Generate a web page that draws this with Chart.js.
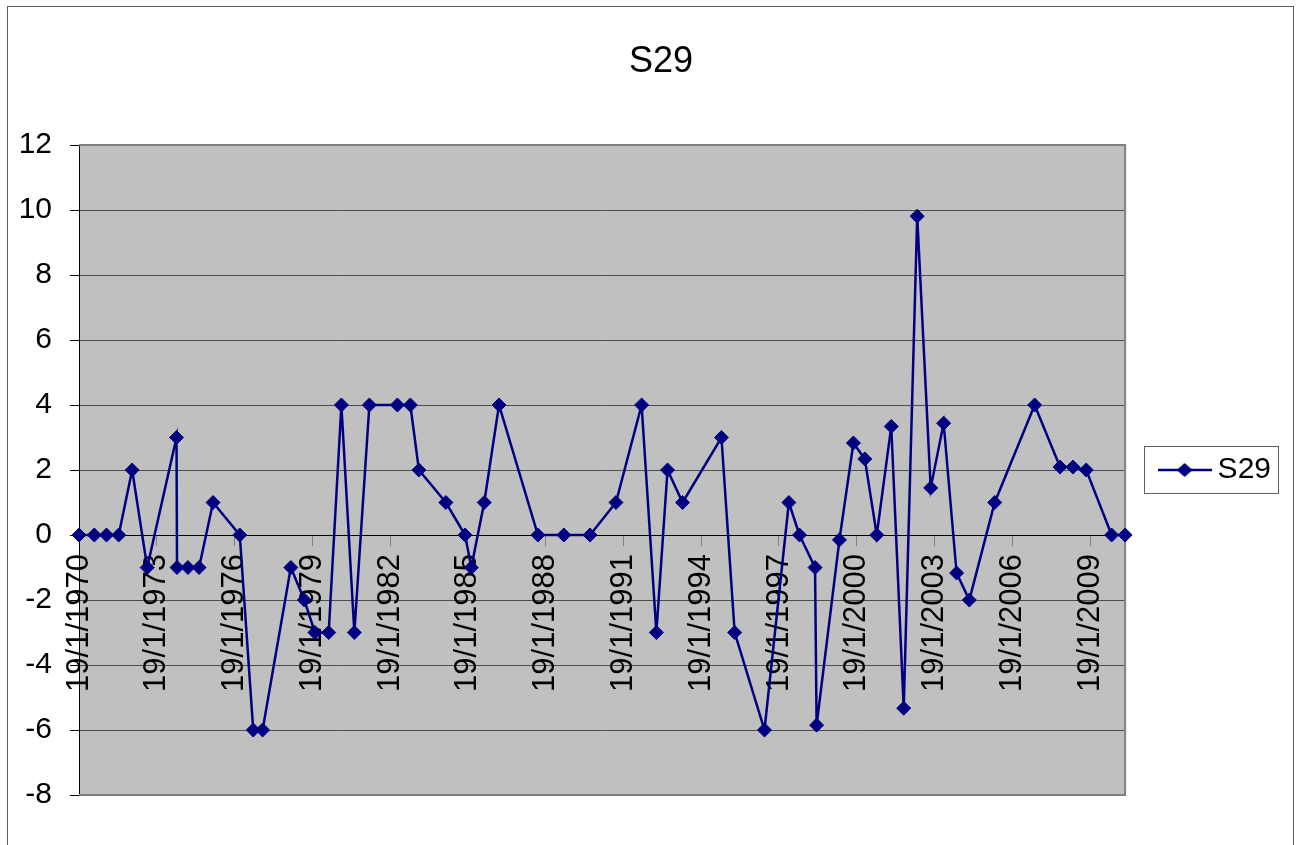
<!DOCTYPE html>
<html>
<head>
<meta charset="utf-8">
<title>S29</title>
<script src="https://cdn.jsdelivr.net/npm/chart.js@4.4.0/dist/chart.umd.min.js"></script>
<style>
  html, body { margin: 0; padding: 0; background: #ffffff; }
  canvas { display: block; }
</style>
</head>
<body>
<canvas id="chart" width="1301" height="845"></canvas>
<script>
// Series S29: observation dates (decimal years) and values
const seriesName = 'S29';
const dates = [
  1970.049, 1970.64, 1971.11, 1971.58, 1972.10, 1972.68, 1973.81, 1973.83, 1974.25, 1974.68,
  1975.22, 1976.25, 1976.77, 1977.13, 1978.22, 1978.74, 1979.15, 1979.68, 1980.17, 1980.67,
  1981.25, 1982.33, 1982.83, 1983.16, 1984.20, 1984.94, 1985.18, 1985.68, 1986.25, 1987.75,
  1988.75, 1989.76, 1990.76, 1991.75, 1992.32, 1992.75, 1993.33, 1994.83, 1995.34, 1996.49,
  1997.43, 1997.84, 1998.44, 1998.50, 1999.38, 1999.92, 2000.36, 2000.82, 2001.38, 2001.86,
  2002.38, 2002.90, 2003.40, 2003.90, 2004.39, 2005.37, 2006.91, 2007.89, 2008.39, 2008.90,
  2009.88, 2010.40
];
const values = [
  0, 0, 0, 0, 2, -1, 3, -1, -1, -1,
  1, 0, -6, -6, -1, -2, -3, -3, 4, -3,
  4, 4, 4, 2, 1, 0, -1, 1, 4, 0,
  0, 0, 1, 4, -3, 2, 1, 3, -3, -6,
  1, 0, -1, -5.85, -0.15, 2.83, 2.34, 0, 3.34, -5.33,
  9.81, 1.45, 3.44, -1.17, -2, 1, 4, 2.09, 2.09, 2.0,
  0, 0
];

// Date axis labels (every third year) and value axis range
const xTickLabels = [
  '19/1/1970', '19/1/1973', '19/1/1976', '19/1/1979', '19/1/1982', '19/1/1985', '19/1/1988',
  '19/1/1991', '19/1/1994', '19/1/1997', '19/1/2000', '19/1/2003', '19/1/2006', '19/1/2009'
];
const yMin = -8;
const yMax = 12;
const yStep = 2;

const NAVY = '#000080';
const FONT = "'Liberation Sans', Arial, sans-serif";

// d/m/yyyy -> decimal year
function decimalYear(label) {
  const [d, m, y] = label.split('/').map(Number);
  const dayOfYear = (Date.UTC(y, m - 1, d) - Date.UTC(y, 0, 1)) / 86400000;
  return y + dayOfYear / 365;
}
const xTickValues = xTickLabels.map(decimalYear);

// Legend symbol: a short line with a diamond on it
const legendMarker = document.createElement('canvas');
legendMarker.width = 54;
legendMarker.height = 18;
(function () {
  const g = legendMarker.getContext('2d');
  g.strokeStyle = NAVY;
  g.lineWidth = 2.5;
  g.beginPath();
  g.moveTo(0, 9);
  g.lineTo(54, 9);
  g.stroke();
  g.fillStyle = NAVY;
  g.beginPath();
  g.moveTo(19, 9);
  g.lineTo(27, 2);
  g.lineTo(35, 9);
  g.lineTo(27, 16);
  g.closePath();
  g.fill();
})();

// Page frame, grey plot background, plot border and legend frame
const decorations = {
  id: 'decorations',
  beforeDraw(chart) {
    const { ctx, chartArea: a } = chart;
    ctx.save();
    ctx.fillStyle = '#ffffff';
    ctx.fillRect(0, 0, chart.width, chart.height);
    ctx.strokeStyle = '#606060';
    ctx.lineWidth = 1;
    ctx.strokeRect(7.5, 6.5, chart.width - 15, chart.height + 20);
    ctx.fillStyle = '#c0c0c0';
    ctx.fillRect(a.left, a.top, a.right - a.left, a.bottom - a.top);
    ctx.restore();
  },
  beforeDatasetsDraw(chart) {
    const { ctx, chartArea: a } = chart;
    ctx.save();
    ctx.strokeStyle = '#808080';
    ctx.lineWidth = 2;
    ctx.beginPath();
    ctx.moveTo(a.left, a.top);
    ctx.lineTo(a.right, a.top);
    ctx.lineTo(a.right, a.bottom);
    ctx.lineTo(a.left, a.bottom);
    ctx.stroke();
    ctx.restore();
  },
  afterDraw(chart) {
    const hb = chart.legend && chart.legend.legendHitBoxes && chart.legend.legendHitBoxes[0];
    if (!hb) return;
    const { ctx } = chart;
    const cy = hb.top + hb.height / 2;
    ctx.save();
    ctx.strokeStyle = '#606060';
    ctx.lineWidth = 1;
    ctx.strokeRect(Math.round(hb.left - 22.5) + 0.5, Math.round(cy - 24) + 0.5, 134, 47);
    ctx.restore();
  }
};

new Chart(document.getElementById('chart'), {
  type: 'line',
  data: {
    datasets: [{
      label: seriesName,
      data: dates.map((d, i) => ({ x: d, y: values[i] })),
      borderColor: NAVY,
      backgroundColor: NAVY,
      borderWidth: 2.5,
      tension: 0,
      pointStyle: 'rectRot',
      pointRadius: 7,
      pointBackgroundColor: NAVY,
      pointBorderColor: NAVY,
      pointBorderWidth: 1,
      clip: false
    }]
  },
  options: {
    responsive: false,
    animation: false,
    events: [],
    layout: { padding: { left: 16, right: -5, top: 0, bottom: 50 } },
    scales: {
      x: {
        type: 'linear',
        position: { y: 0 },
        min: dates[0],
        max: dates[dates.length - 1],
        afterBuildTicks(scale) {
          scale.ticks = xTickValues.map(v => ({ value: v }));
        },
        ticks: {
          autoSkip: false,
          minRotation: 90,
          maxRotation: 90,
          padding: 9,
          color: '#000000',
          font: { family: FONT, size: 31 },
          callback(value, index) { return xTickLabels[index]; }
        },
        grid: {
          drawOnChartArea: false,
          drawTicks: true,
          tickLength: 10,
          tickColor: '#808080',
          tickWidth: 1
        },
        border: { display: true, color: '#000000', width: 1 }
      },
      y: {
        type: 'linear',
        position: 'left',
        min: yMin,
        max: yMax,
        afterFit(scale) { scale.width = 63; },
        ticks: {
          stepSize: yStep,
          padding: 18,
          color: '#000000',
          font: { family: FONT, size: 30 }
        },
        grid: {
          color: ctx => (ctx.tick && ctx.tick.value === 0 ? '#000000' : '#4d4d4d'),
          lineWidth: 1,
          tickLength: 9,
          tickColor: '#000000'
        },
        border: { display: true, color: '#000000', width: 1 }
      },
      // empty margin strip to the right of the legend
      margin: {
        type: 'linear',
        axis: 'y',
        position: 'right',
        weight: 2000,
        display: true,
        afterFit(scale) { scale.width = 25; },
        ticks: { display: false },
        grid: { display: false },
        border: { display: false }
      }
    },
    plugins: {
      title: {
        display: true,
        text: seriesName,
        color: '#000000',
        font: { family: FONT, size: 36, weight: 'normal' },
        padding: { top: 40.4, bottom: 61.4 }
      },
      legend: {
        display: true,
        position: 'right',
        align: 'center',
        fullSize: false,
        labels: {
          usePointStyle: true,
          pointStyle: legendMarker,
          pointStyleWidth: 36,
          padding: 41.5,
          color: '#000000',
          font: { family: FONT, size: 30 }
        }
      },
      tooltip: { enabled: false }
    }
  },
  plugins: [decorations]
});
</script>
</body>
</html>
